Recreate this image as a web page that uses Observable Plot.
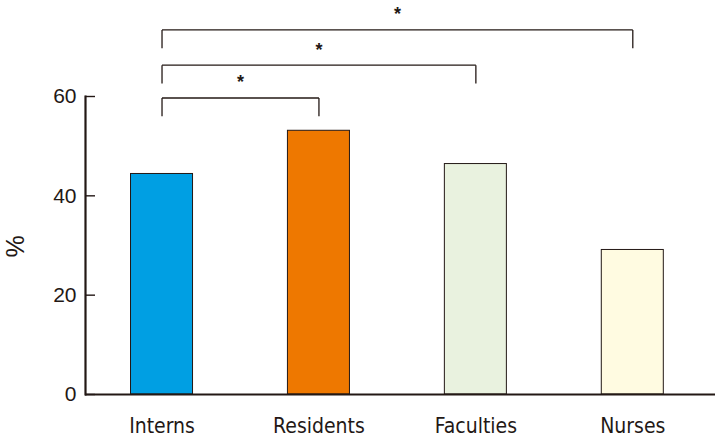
<!DOCTYPE html>
<html>
<head>
<meta charset="utf-8">
<script src="https://cdn.jsdelivr.net/npm/d3@7"></script>
<script src="https://cdn.jsdelivr.net/npm/@observablehq/plot@0.6"></script>
<style>
  html, body { margin: 0; padding: 0; background: #fff; }
  #chart svg { display: block; }
</style>
</head>
<body>
<div id="chart"></div>
<script>
// ---- data ----
const groups = ["Interns", "Residents", "Faculties", "Nurses"];
const percents = [44.4, 53.1, 46.4, 29.1];
const fills = ["#009fe3", "#ee7800", "#e9f2df", "#fffbe1"];
const yTicks = [0, 20, 40, 60];

// significance brackets (from group, to group, bracket height in %)
const bracketFrom = ["Interns", "Interns", "Interns"];
const bracketTo = ["Residents", "Faculties", "Nurses"];
const bracketLevel = [59.7, 66.3, 73.4];
const bracketLabel = ["*", "*", "*"];

// ---- layout / style constants ----
const barHalf = 0.1976;      // half bar width, in group-index units
const bracketLeg = 3.7;      // bracket leg length, in %
const ink = "#231815";
const narrow = "'Liberation Sans Narrow', 'DejaVu Sans Condensed', 'Liberation Sans', sans-serif";
const sans = "'Liberation Sans', Arial, sans-serif";

const idx = g => groups.indexOf(g);
const bars = groups.map((g, i) => ({group: g, value: percents[i], fill: fills[i]}));
const brackets = bracketFrom.map((f, i) => ({from: f, to: bracketTo[i], level: bracketLevel[i], label: bracketLabel[i]}));
const legs = brackets.flatMap(b => [
  {group: b.from, y1: b.level - bracketLeg, y2: b.level},
  {group: b.to, y1: b.level - bracketLeg, y2: b.level}
]);

const chart = Plot.plot({
  width: 715,
  height: 441,
  marginLeft: 85,
  marginRight: 0,
  marginTop: 96,
  marginBottom: 47,
  style: {fontFamily: narrow, background: "#fff", color: ink},
  x: {type: "linear", domain: [-0.4876, 3.527], label: null},
  y: {domain: [0, 60], label: null},
  marks: [
    Plot.rectY(bars, {
      x1: d => idx(d.group) - barHalf,
      x2: d => idx(d.group) + barHalf,
      y1: 0, y2: "value",
      fill: "fill", stroke: ink, strokeWidth: 1
    }),
    Plot.ruleY([0], {stroke: ink, strokeWidth: 2.2}),
    Plot.frame({anchor: "left", stroke: ink, strokeWidth: 2.2}),
    Plot.axisY({ticks: yTicks, tickSize: 10, dx: 10, tickPadding: 9, fontSize: 21, fontFamily: sans, stroke: ink, strokeWidth: 1.4, fill: ink, label: null}),
    Plot.axisX({ticks: groups.map((g, i) => i), tickFormat: i => groups[i], tickSize: 0, tickPadding: 24, fontSize: 21, fill: ink, label: null}),
    Plot.text(["%"], {frameAnchor: "left", y: 27.6, dx: -70, rotate: -90, fontSize: 25, fill: ink, fontFamily: sans}),
    Plot.link(brackets, {x1: d => idx(d.from), x2: d => idx(d.to), y1: "level", y2: "level", stroke: ink, strokeWidth: 1.3}),
    Plot.link(legs, {x1: d => idx(d.group), x2: d => idx(d.group), y1: "y1", y2: "y2", stroke: ink, strokeWidth: 1.3}),
    Plot.text(brackets, {
      x: b => (idx(b.from) + idx(b.to)) / 2,
      y: b => b.level + 3.1,
      text: "label",
      fontSize: 18,
      fontWeight: "bold",
      fill: ink,
      fontFamily: sans
    })
  ]
});
document.getElementById("chart").appendChild(chart);
</script>
</body>
</html>
